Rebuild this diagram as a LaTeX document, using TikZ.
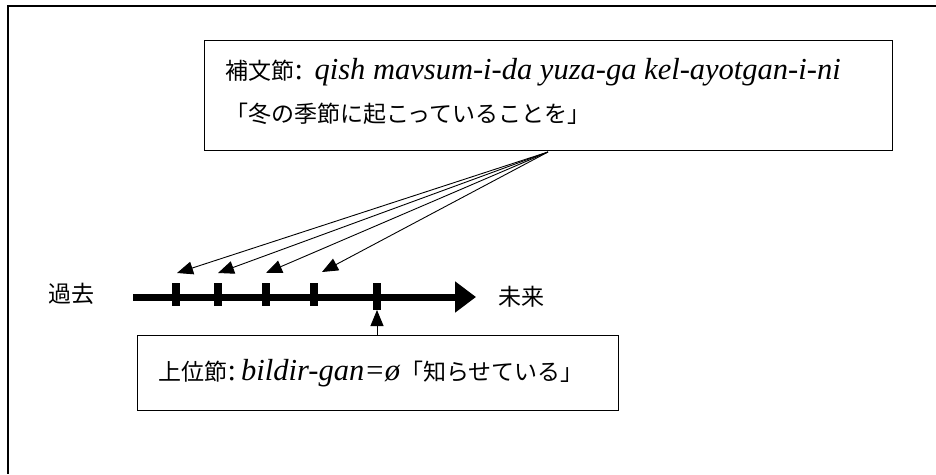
\documentclass[tikz,border=0pt]{standalone}
\usepackage{fontspec}
\setmainfont{Liberation Serif}
\newfontfamily\jpfont{Noto Sans CJK JP}
\usetikzlibrary{arrows.meta,positioning}
\newcommand{\jp}[1]{{\jpfont #1}}
\newcommand{\rom}[1]{{\fontsize{30.5}{39}\selectfont #1}}

\begin{document}
\begin{tikzpicture}[x=1pt,y=-1pt,
    clausebox/.style={draw, line width=1.2pt, inner sep=0pt, align=left, font=\fontsize{23}{39}\selectfont},
    pointer/.style={line width=0.9pt, -{Triangle[length=16pt,width=13pt]}},
    timeline/.style={line width=7pt, -{Triangle[length=21pt,width=30pt]}},
    tickmark/.style={line width=8pt},
    jplabel/.style={font=\fontsize{23}{28}\selectfont\jpfont}
]
\useasboundingbox (0,0) rectangle (936,474);
\draw[line width=1.5pt] (936,6) -- (8,6) -- (8,474);

% subordinate clause
\node[clausebox, anchor=north west, minimum width=688pt, minimum height=110pt, text width=646pt] (hobun) at (204,40)
  {\jp{補文節}\rom{: \textit{qish mavsum-i-da yuza-ga kel-ayotgan-i-ni}}\\[4pt]
   \jp{「冬の季節に起こっていることを」}\\[-28pt]\mbox{}};
\coordinate (src) at (548,152);
\foreach \x/\y [count=\i] in {177/273,218/273,266/273,322/272} {
  \coordinate (hit\i) at (\x,\y);
  \draw[pointer] (src) -- (hit\i);
}

% time axis
\coordinate (past) at (133,297);
\coordinate (future) at (476,297);
\draw[timeline] (past) -- (future);
\foreach \x in {176,218,266,314} {
  \draw[tickmark] (\x,283) -- (\x,306);
}
\coordinate (now) at (377,310);
\draw[tickmark] (377,283) -- (now);
\node[jplabel] (kako) at (71,294) {過去};
\node[jplabel, anchor=west] (mirai) at (495,297) {未来};

% main clause
\node[clausebox, anchor=north west, minimum width=481pt, minimum height=75pt, text width=439pt] (joi) at (137,335)
  {\jp{上位節}\rom{:\,\textit{bildir-gan=ø}}\jp{「知らせている」}};
\draw[pointer] (joi.north -| now) -- (now);
\end{tikzpicture}
\end{document}
